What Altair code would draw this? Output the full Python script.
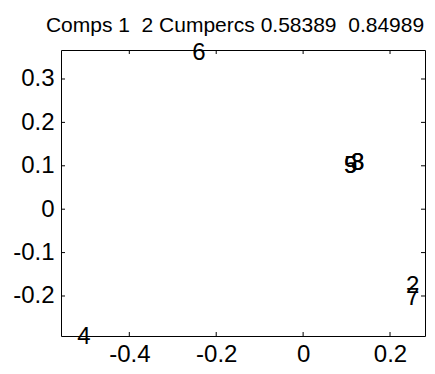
import altair as alt
import pandas as pd

labels = ["2", "3", "4", "5", "6", "7", "8", "9"]
xs = [0.237, 0.110, -0.520, 0.094, -0.255, 0.237, 0.110, 0.094]
ys = [-0.177, 0.107, -0.295, 0.099, 0.3606, -0.205, 0.107, 0.099]

x_ticks = [-0.4, -0.2, 0, 0.2]
y_ticks = [-0.2, -0.1, 0, 0.1, 0.2, 0.3]
x_domain = [-0.5572, 0.2805]
y_domain = [-0.2922, 0.3668]
title = "Comps 1\u00a0 2 Cumpercs 0.58389\u00a0 0.84989"

W, H = 364, 286
FONT = "Liberation Sans"

pts = pd.DataFrame({"label": labels, "x": xs, "y": ys})
xt = pd.DataFrame({"x": x_ticks})
yt = pd.DataFrame({"y": y_ticks})

xs_scale = alt.Scale(domain=x_domain, nice=False, zero=False)
ys_scale = alt.Scale(domain=y_domain, nice=False, zero=False)

xaxis = alt.Axis(values=x_ticks, domain=False, ticks=False, grid=False, title=None,
                 labelFontSize=24, labelFont=FONT, labelColor="black", labelPadding=6,
                 labelFlush=False, labelExpr="toString(datum.value)")
yaxis = alt.Axis(values=y_ticks, domain=False, ticks=False, grid=False, title=None,
                 labelFontSize=24, labelFont=FONT, labelColor="black", labelPadding=7,
                 labelFlush=False, labelExpr="toString(datum.value)")

text = alt.Chart(pts).mark_text(align="left", baseline="middle", fontSize=24, font=FONT,
                                color="black", clip=False).encode(
    x=alt.X("x:Q", scale=xs_scale, axis=xaxis),
    y=alt.Y("y:Q", scale=ys_scale, axis=yaxis),
    text="label:N",
)

bt = alt.Chart(xt).mark_rule(color="black", strokeWidth=1).encode(
    x=alt.X("x:Q", scale=xs_scale), y=alt.value(H), y2=alt.value(H - 4))
tt = alt.Chart(xt).mark_rule(color="black", strokeWidth=1).encode(
    x=alt.X("x:Q", scale=xs_scale), y=alt.value(0), y2=alt.value(4))
lt = alt.Chart(yt).mark_rule(color="black", strokeWidth=1).encode(
    y=alt.Y("y:Q", scale=ys_scale), x=alt.value(0), x2=alt.value(4))
rt = alt.Chart(yt).mark_rule(color="black", strokeWidth=1).encode(
    y=alt.Y("y:Q", scale=ys_scale), x=alt.value(W), x2=alt.value(W - 4))

chart = alt.layer(text, bt, tt, lt, rt).properties(
    width=W, height=H,
    title=alt.TitleParams(title, fontSize=21, font=FONT, fontWeight="normal",
                          color="black", anchor="middle", offset=5, dx=-8),
    autosize=alt.AutoSizeParams(type="none"),
    padding={"left": 53, "top": 42, "right": 2, "bottom": 30},
).configure(background="white",
            view=alt.ViewConfig(stroke="black", strokeWidth=1))

chart.save("out.html", embed_options={"renderer": "svg", "actions": False})
